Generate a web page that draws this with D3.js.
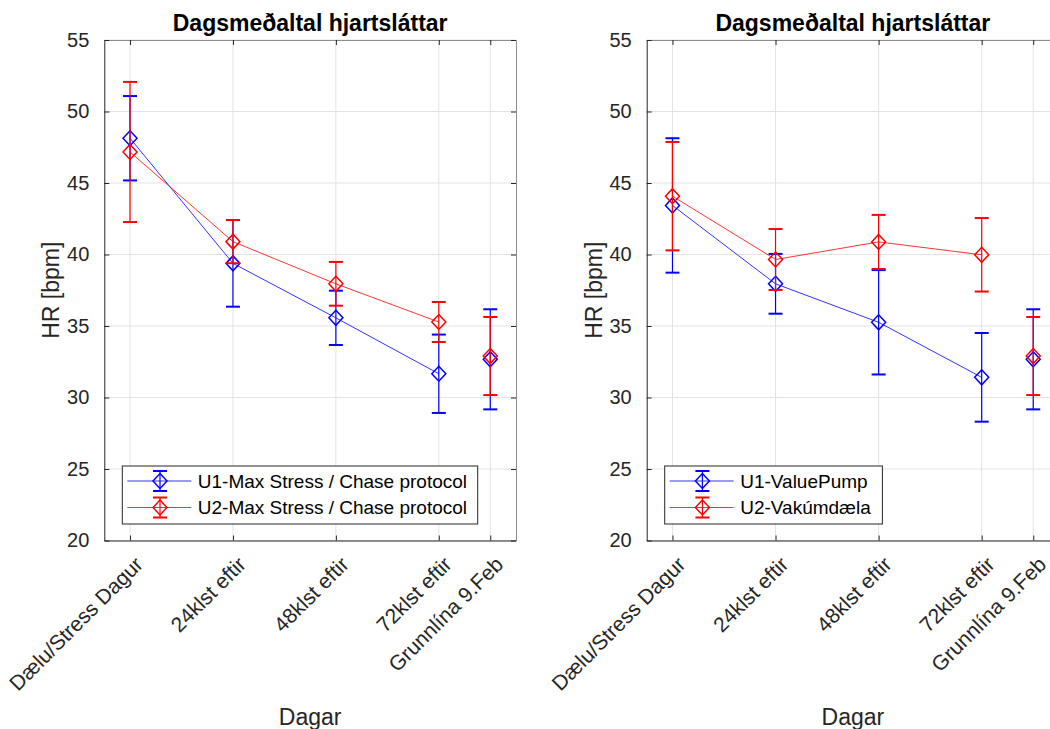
<!DOCTYPE html>
<html>
<head>
<meta charset="utf-8">
<script src="https://cdn.jsdelivr.net/npm/d3@7"></script>
<style>
  body { margin: 0; background: #fff; }
  svg { display: block; font-family: "Liberation Sans", Arial, sans-serif; }
</style>
</head>
<body>
<script>
// categories on the x axis, the last one sits half a step after the others
var categories = ["Dælu/Stress Dagur", "24klst eftir", "48klst eftir", "72klst eftir", "Grunnlína 9.Feb"];
var xPos = [1, 2, 3, 4, 4.5];
var yTicks = [20, 25, 30, 35, 40, 45, 50, 55];

// left panel
var leftU1 = [48.13, 39.38, 35.57, 31.66, 32.67];
var leftU1Err = [2.95, 3.03, 1.90, 2.74, 3.50];
var leftU2 = [47.17, 40.90, 37.95, 35.28, 32.90];
var leftU2Err = [4.90, 1.51, 1.53, 1.40, 2.73];

// right panel
var rightU1 = [43.43, 37.95, 35.26, 31.41, 32.67];
var rightU1Err = [4.70, 2.09, 3.65, 3.10, 3.50];
var rightU2 = [44.08, 39.65, 40.88, 39.98, 32.90];
var rightU2Err = [3.79, 2.13, 1.89, 2.57, 2.73];

var leftNames = ["U1-Max Stress / Chase protocol", "U2-Max Stress / Chase protocol"];
var rightNames = ["U1-ValuePump", "U2-Vakúmdæla"];

var title = "Dagsmeðaltal hjartsláttar",
    xLabel = "Dagar",
    yLabel = "HR [bpm]";

var width = 1050,
    height = 729,
    blue = "#0000ff",
    red = "#ff0000",
    axisCol = "#262626";

var svg = d3.select("body").append("svg")
    .attr("width", width)
    .attr("height", height);

function panel(left, right, series, names, legendW) {
    var top = 40, bottom = 540.5;
    var x = d3.scaleLinear().domain([0.75, 4.75]).range([left, right]);
    var y = d3.scaleLinear().domain([20, 55]).range([bottom, top]);
    var g = svg.append("g");

    // grid
    g.selectAll(".gx").data(xPos).enter().append("line")
        .attr("x1", function(d){ return x(d); }).attr("x2", function(d){ return x(d); })
        .attr("y1", top).attr("y2", bottom)
        .attr("stroke", "#e3e3e3").attr("stroke-width", 1);
    g.selectAll(".gy").data(yTicks).enter().append("line")
        .attr("x1", left).attr("x2", right)
        .attr("y1", function(d){ return y(d); }).attr("y2", function(d){ return y(d); })
        .attr("stroke", "#e3e3e3").attr("stroke-width", 1);

    // axes with inside ticks, box on
    var ax = g.append("g").attr("transform", "translate(0," + bottom + ")")
        .call(d3.axisBottom(x).tickValues(xPos).tickSizeInner(-5).tickSizeOuter(0).tickFormat(""));
    var axTop = g.append("g").attr("transform", "translate(0," + top + ")")
        .call(d3.axisTop(x).tickValues(xPos).tickSizeInner(-5).tickSizeOuter(0).tickFormat(""));
    var ay = g.append("g").attr("transform", "translate(" + left + ",0)")
        .call(d3.axisLeft(y).tickValues(yTicks).tickSizeInner(-5).tickSizeOuter(0).tickPadding(15));
    var ayR = g.append("g").attr("transform", "translate(" + right + ",0)")
        .call(d3.axisRight(y).tickValues(yTicks).tickSizeInner(-5).tickSizeOuter(0).tickFormat(""));
    [ax, ay].forEach(function(a){
        a.select(".domain").attr("stroke", axisCol);
        a.selectAll(".tick line").attr("stroke", axisCol);
    });
    [axTop, ayR].forEach(function(a){
        a.select(".domain").attr("stroke", "#8c8c8c");
        a.selectAll(".tick line").attr("stroke", axisCol);
    });
    ay.selectAll("text")
        .attr("font-size", 20).attr("fill", axisCol)
        .attr("font-family", "Liberation Sans, Arial, sans-serif");

    // rotated category labels
    g.selectAll(".xl").data(categories).enter().append("text")
        .attr("transform", function(d, i){ return "translate(" + (x(xPos[i]) + 9) + "," + (bottom + 20) + ") rotate(-45)"; })
        .attr("text-anchor", "end")
        .attr("dy", "0.35em")
        .attr("font-size", 21)
        .attr("fill", axisCol)
        .text(function(d){ return d; });

    g.append("text")
        .attr("x", (left + right) / 2).attr("y", 725)
        .attr("text-anchor", "middle").attr("font-size", 23).attr("fill", axisCol)
        .text(xLabel);
    g.append("text")
        .attr("transform", "translate(" + (left - 45) + "," + ((top + bottom) / 2) + ") rotate(-90)")
        .attr("text-anchor", "middle").attr("font-size", 23).attr("fill", axisCol)
        .text(yLabel);
    g.append("text")
        .attr("x", (left + right) / 2).attr("y", 31)
        .attr("text-anchor", "middle").attr("font-size", 23).attr("font-weight", "bold")
        .attr("fill", "#000")
        .text(title);

    var line = d3.line()
        .defined(function(d, i){ return i < 4; })
        .x(function(d, i){ return x(xPos[i]); })
        .y(function(d){ return y(d); });

    series.forEach(function(s){
        var sg = g.append("g");
        sg.append("path").datum(s.mean)
            .attr("d", line).attr("fill", "none")
            .attr("stroke", s.color).attr("stroke-width", 1).attr("stroke-opacity", 0.8);
        var pts = sg.selectAll(".pt").data(s.mean).enter().append("g");
        pts.append("line")
            .attr("x1", function(d, i){ return x(xPos[i]); }).attr("x2", function(d, i){ return x(xPos[i]); })
            .attr("y1", function(d, i){ return y(d - s.err[i]); })
            .attr("y2", function(d, i){ return y(d + s.err[i]); })
            .attr("stroke", s.color).attr("stroke-width", 1.2);
        [-1, 1].forEach(function(sign){
            pts.append("line")
                .attr("x1", function(d, i){ return x(xPos[i]) - 7; })
                .attr("x2", function(d, i){ return x(xPos[i]) + 7; })
                .attr("y1", function(d, i){ return y(d + sign * s.err[i]); })
                .attr("y2", function(d, i){ return y(d + sign * s.err[i]); })
                .attr("stroke", s.color).attr("stroke-width", 2);
        });
        pts.append("path")
            .attr("d", function(d, i){
                var cx = x(xPos[i]), cy = y(d);
                return "M" + cx + "," + (cy - 7.5) + "L" + (cx + 7) + "," + cy +
                       "L" + cx + "," + (cy + 7.5) + "L" + (cx - 7) + "," + cy + "Z";
            })
            .attr("fill", "none").attr("stroke", s.color).attr("stroke-width", 1.5);
    });

    // legend
    var lx = left + 18, ly = 466;
    var lg = g.append("g");
    lg.append("rect").attr("x", lx).attr("y", ly).attr("width", legendW).attr("height", 58)
        .attr("fill", "#fff").attr("stroke", axisCol).attr("stroke-width", 1);
    series.forEach(function(s, k){
        var cy = ly + 15 + k * 26.5, cx = lx + 37.7;
        lg.append("line").attr("x1", lx + 5).attr("x2", lx + 69).attr("y1", cy).attr("y2", cy)
            .attr("stroke", s.color).attr("stroke-width", 1).attr("stroke-opacity", 0.8);
        lg.append("line").attr("x1", cx).attr("x2", cx).attr("y1", cy - 10).attr("y2", cy + 10)
            .attr("stroke", s.color).attr("stroke-width", 1.2);
        [-10, 10].forEach(function(o){
            lg.append("line").attr("x1", cx - 7).attr("x2", cx + 7).attr("y1", cy + o).attr("y2", cy + o)
                .attr("stroke", s.color).attr("stroke-width", 2);
        });
        lg.append("path")
            .attr("d", "M" + cx + "," + (cy - 7.5) + "L" + (cx + 7) + "," + cy + "L" + cx + "," + (cy + 7.5) + "L" + (cx - 7) + "," + cy + "Z")
            .attr("fill", "none").attr("stroke", s.color).attr("stroke-width", 1.5);
        lg.append("text").attr("x", lx + 75.5).attr("y", cy).attr("dy", "0.35em")
            .attr("font-size", 19).attr("fill", "#000")
            .text(names[k]);
    });
}

panel(104.3, 516, [
    {mean: leftU1, err: leftU1Err, color: blue},
    {mean: leftU2, err: leftU2Err, color: red}
], leftNames, 355.4);

panel(646.7, 1059, [
    {mean: rightU1, err: rightU1Err, color: blue},
    {mean: rightU2, err: rightU2Err, color: red}
], rightNames, 217.7);
</script>
</body>
</html>
